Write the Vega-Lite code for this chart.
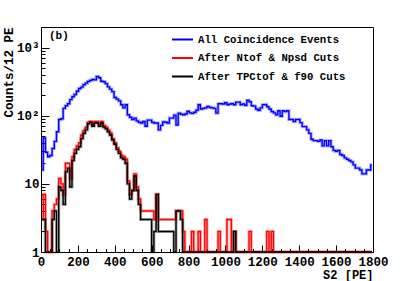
{
"$schema": "https://vega.github.io/schema/vega-lite/v6.json",
"width": 332, "height": 225,
"autosize": {"type": "none"},
"padding": {"left": 41, "top": 27, "right": 42, "bottom": 29},
"background": "white",
"config": {"view": {"stroke": "#000", "strokeWidth": 1}, "font": "Liberation Mono"},
"datasets": {
"h": [
{"x":6,"all":16,"ntof":3,"tpc":3},{"x":18,"all":47,"ntof":7,"tpc":3},{"x":30,"all":29,"ntof":2,"tpc":1},{"x":42,"all":25,"ntof":1,"tpc":1},{"x":54,"all":26,"ntof":1,"tpc":1},
{"x":66,"all":33,"ntof":4,"tpc":3},{"x":78,"all":42,"ntof":5,"tpc":4},{"x":90,"all":58,"ntof":6,"tpc":1},{"x":102,"all":88,"ntof":12,"tpc":9},{"x":114,"all":90,"ntof":10,"tpc":8},
{"x":126,"all":128,"ntof":7,"tpc":5},{"x":138,"all":140,"ntof":20,"tpc":15},{"x":150,"all":150,"ntof":20,"tpc":17},{"x":162,"all":172,"ntof":12,"tpc":9},{"x":174,"all":190,"ntof":25,"tpc":22},
{"x":186,"all":205,"ntof":32,"tpc":28},{"x":198,"all":228,"ntof":36,"tpc":32},{"x":210,"all":250,"ntof":40,"tpc":35},{"x":222,"all":262,"ntof":52,"tpc":46},{"x":234,"all":285,"ntof":60,"tpc":55},
{"x":246,"all":300,"ntof":68,"tpc":62},{"x":258,"all":318,"ntof":80,"tpc":76},{"x":270,"all":330,"ntof":82,"tpc":80},{"x":282,"all":340,"ntof":75,"tpc":70},{"x":294,"all":335,"ntof":82,"tpc":78},
{"x":306,"all":375,"ntof":82,"tpc":78},{"x":318,"all":360,"ntof":74,"tpc":70},{"x":330,"all":320,"ntof":82,"tpc":78},{"x":342,"all":315,"ntof":72,"tpc":68},{"x":354,"all":295,"ntof":68,"tpc":64},
{"x":366,"all":265,"ntof":62,"tpc":58},{"x":378,"all":245,"ntof":56,"tpc":52},{"x":390,"all":225,"ntof":46,"tpc":44},{"x":402,"all":185,"ntof":40,"tpc":38},{"x":414,"all":175,"ntof":34,"tpc":32},
{"x":426,"all":165,"ntof":30,"tpc":28},{"x":438,"all":145,"ntof":26,"tpc":24},{"x":450,"all":130,"ntof":25,"tpc":23},{"x":462,"all":145,"ntof":23,"tpc":20},{"x":474,"all":103,"ntof":11,"tpc":10},
{"x":486,"all":95,"ntof":7,"tpc":6},{"x":498,"all":88,"ntof":8,"tpc":8},{"x":510,"all":92,"ntof":14,"tpc":13},{"x":522,"all":84,"ntof":9,"tpc":8},{"x":534,"all":80,"ntof":6,"tpc":5},
{"x":546,"all":78,"ntof":4,"tpc":3},{"x":558,"all":82,"ntof":4,"tpc":3},{"x":570,"all":70,"ntof":4,"tpc":3},{"x":582,"all":86,"ntof":4,"tpc":3},{"x":594,"all":86,"ntof":4,"tpc":3},
{"x":606,"all":80,"ntof":4,"tpc":1},{"x":618,"all":78,"ntof":3,"tpc":2},{"x":630,"all":78,"ntof":7,"tpc":7},{"x":642,"all":62,"ntof":3,"tpc":2},{"x":654,"all":72,"ntof":3,"tpc":2},
{"x":666,"all":81,"ntof":3,"tpc":2},{"x":678,"all":80,"ntof":3,"tpc":2},{"x":690,"all":78,"ntof":3,"tpc":2},{"x":702,"all":92,"ntof":3,"tpc":2},{"x":714,"all":92,"ntof":3,"tpc":2},
{"x":726,"all":102,"ntof":3,"tpc":1},{"x":738,"all":73,"ntof":4,"tpc":4},{"x":750,"all":109,"ntof":4,"tpc":4},{"x":762,"all":105,"ntof":4,"tpc":3},{"x":774,"all":103,"ntof":2,"tpc":1},
{"x":786,"all":106,"ntof":1,"tpc":1},{"x":798,"all":116,"ntof":1,"tpc":1},{"x":810,"all":110,"ntof":1,"tpc":1},{"x":822,"all":108,"ntof":2,"tpc":1},{"x":834,"all":112,"ntof":1,"tpc":1},
{"x":846,"all":120,"ntof":1,"tpc":1},{"x":858,"all":145,"ntof":2,"tpc":1},{"x":870,"all":125,"ntof":1,"tpc":1},{"x":882,"all":128,"ntof":1,"tpc":1},{"x":894,"all":130,"ntof":3,"tpc":1},
{"x":906,"all":137,"ntof":1,"tpc":1},{"x":918,"all":132,"ntof":1,"tpc":1},{"x":930,"all":130,"ntof":1,"tpc":1},{"x":942,"all":128,"ntof":1,"tpc":1},{"x":954,"all":109,"ntof":1,"tpc":1},
{"x":966,"all":150,"ntof":2,"tpc":1},{"x":978,"all":150,"ntof":1,"tpc":1},{"x":990,"all":148,"ntof":1,"tpc":1},{"x":1002,"all":155,"ntof":1,"tpc":1},{"x":1014,"all":145,"ntof":3,"tpc":1},
{"x":1026,"all":148,"ntof":3,"tpc":1},{"x":1038,"all":150,"ntof":1,"tpc":1},{"x":1050,"all":145,"ntof":2,"tpc":2},{"x":1062,"all":158,"ntof":1,"tpc":1},{"x":1074,"all":158,"ntof":1,"tpc":1},
{"x":1086,"all":145,"ntof":1,"tpc":1},{"x":1098,"all":148,"ntof":1,"tpc":1},{"x":1110,"all":142,"ntof":1,"tpc":1},{"x":1122,"all":168,"ntof":1,"tpc":1},{"x":1134,"all":160,"ntof":2,"tpc":1},
{"x":1146,"all":140,"ntof":1,"tpc":1},{"x":1158,"all":138,"ntof":1,"tpc":1},{"x":1170,"all":125,"ntof":1,"tpc":1},{"x":1182,"all":120,"ntof":1,"tpc":1},{"x":1194,"all":130,"ntof":1,"tpc":1},
{"x":1206,"all":145,"ntof":1,"tpc":1},{"x":1218,"all":145,"ntof":1,"tpc":1},{"x":1230,"all":135,"ntof":2,"tpc":1},{"x":1242,"all":125,"ntof":1,"tpc":1},{"x":1254,"all":115,"ntof":2,"tpc":1},
{"x":1266,"all":110,"ntof":1,"tpc":1},{"x":1278,"all":103,"ntof":1,"tpc":1},{"x":1290,"all":118,"ntof":1,"tpc":1},{"x":1302,"all":98,"ntof":1,"tpc":1},{"x":1314,"all":118,"ntof":1,"tpc":1},
{"x":1326,"all":115,"ntof":1,"tpc":1},{"x":1338,"all":118,"ntof":1,"tpc":1},{"x":1350,"all":88,"ntof":1,"tpc":1},{"x":1362,"all":88,"ntof":1,"tpc":1},{"x":1374,"all":82,"ntof":1,"tpc":1},
{"x":1386,"all":88,"ntof":1,"tpc":1},{"x":1398,"all":88,"ntof":1,"tpc":1},{"x":1410,"all":79,"ntof":1,"tpc":1},{"x":1422,"all":69,"ntof":1,"tpc":1},{"x":1434,"all":69,"ntof":1,"tpc":1},
{"x":1446,"all":62,"ntof":1,"tpc":1},{"x":1458,"all":55,"ntof":1,"tpc":1},{"x":1470,"all":45,"ntof":1,"tpc":1},{"x":1482,"all":43,"ntof":1,"tpc":1},{"x":1494,"all":43,"ntof":1,"tpc":1},
{"x":1506,"all":42,"ntof":1,"tpc":1},{"x":1518,"all":44,"ntof":1,"tpc":1},{"x":1530,"all":36,"ntof":1,"tpc":1},{"x":1542,"all":43,"ntof":1,"tpc":1},{"x":1554,"all":36,"ntof":1,"tpc":1},
{"x":1566,"all":43,"ntof":1,"tpc":1},{"x":1578,"all":35,"ntof":1,"tpc":1},{"x":1590,"all":31,"ntof":1,"tpc":1},{"x":1602,"all":30,"ntof":1,"tpc":1},{"x":1614,"all":31,"ntof":1,"tpc":1},
{"x":1626,"all":27,"ntof":1,"tpc":1},{"x":1638,"all":26,"ntof":1,"tpc":1},{"x":1650,"all":24,"ntof":1,"tpc":1},{"x":1662,"all":23,"ntof":1,"tpc":1},{"x":1674,"all":22,"ntof":1,"tpc":1},
{"x":1686,"all":21,"ntof":1,"tpc":1},{"x":1698,"all":19,"ntof":1,"tpc":1},{"x":1710,"all":17,"ntof":1,"tpc":1},{"x":1722,"all":17,"ntof":1,"tpc":1},{"x":1734,"all":16,"ntof":1,"tpc":1},
{"x":1746,"all":14,"ntof":1,"tpc":1},{"x":1758,"all":14,"ntof":1,"tpc":1},{"x":1770,"all":16,"ntof":1,"tpc":1},{"x":1782,"all":16,"ntof":1,"tpc":1},{"x":1794,"all":19,"ntof":1,"tpc":1}
],
"lab": [{"x": 43, "n": 1500, "t": "(b)"}]
},
"encoding": {
"x": {"field": "x", "type": "quantitative",
"scale": {"domain": [0, 1800], "nice": false, "zero": false},
"axis": {"title": "S2 [PE]", "titleAnchor": "end", "titleFontSize": 12, "titleFont": "Liberation Mono", "titleFontWeight": "bold", "titleColor": "#000", "titlePadding": -2.5,
"values": [0,50,100,150,200,250,300,350,400,450,500,550,600,650,700,750,800,850,900,950,1000,1050,1100,1150,1200,1250,1300,1350,1400,1450,1500,1550,1600,1650,1700,1750,1800],
"format": "d",
"labelExpr": "datum.value % 200 == 0 ? datum.label : ''",
"tickSize": {"condition": {"test": "datum.value % 200 == 0", "value": -7}, "value": -3.5},
"tickColor": "#000", "domainColor": "#000", "grid": false,
"labelFontSize": 12.5, "labelFont": "Liberation Mono", "labelFontWeight": "bold", "labelColor": "#000",
"labelPadding": 10.5, "labelFlush": false, "labelOverlap": false}},
"y": {"field": "n", "type": "quantitative",
"scale": {"type": "log", "domain": [1, 2000], "nice": false},
"axis": {"title": "Counts/12 PE", "titleAnchor": "end", "titleFontSize": 12.5, "titleFont": "Liberation Mono", "titleFontWeight": "bold", "titleColor": "#000", "titlePadding": 1,
"values": [1,2,3,4,5,6,7,8,9,10,20,30,40,50,60,70,80,90,100,200,300,400,500,600,700,800,900,1000,2000],
"labelExpr": "datum.value == 1 ? '1' : datum.value == 10 ? '10' : datum.value == 100 ? '10²' : datum.value == 1000 ? '10³' : ''",
"tickSize": {"condition": {"test": "datum.value == 1 || datum.value == 10 || datum.value == 100 || datum.value == 1000", "value": -8}, "value": -4},
"tickColor": "#000", "domainColor": "#000", "grid": false,
"labelFontSize": 12.5, "labelFont": "Liberation Mono", "labelFontWeight": "bold", "labelColor": "#000",
"labelPadding": 10, "labelFlush": false, "labelOverlap": false}}
},
"layer": [
{
"data": {"name": "h"},
"transform": [{"fold": ["all", "ntof", "tpc"], "as": ["series", "n"]}],
"mark": {"type": "line", "interpolate": "step", "strokeWidth": 3.2, "opacity": 0.3},
"encoding": {
"color": {"field": "series", "type": "nominal",
"scale": {"domain": ["all", "ntof", "tpc"], "range": ["#0000ff", "#ff0000", "#000000"]},
"legend": {"orient": "none", "legendX": 130, "legendY": 1, "title": null, "padding": 0,
"symbolType": "stroke", "symbolStrokeWidth": 2, "symbolSize": 440, "symbolOpacity": 1, "labelOffset": 4,
"labelFontSize": 10.7, "labelFont": "Liberation Mono", "labelFontWeight": "bold", "labelColor": "#000", "rowPadding": 1.5,
"labelExpr": "datum.value == 'all' ? 'All Coincidence Events' : datum.value == 'ntof' ? 'After Ntof & Npsd Cuts' : 'After TPCtof & f90 Cuts'"}}
}
},
{
"data": {"name": "h"},
"transform": [{"fold": ["all", "ntof", "tpc"], "as": ["series", "n"]}],
"mark": {"type": "line", "interpolate": "step", "strokeWidth": 1.4},
"encoding": {
"color": {"field": "series", "type": "nominal",
"scale": {"domain": ["all", "ntof", "tpc"], "range": ["#0000ff", "#ff0000", "#000000"]}}
}
},
{
"data": {"name": "lab"},
"mark": {"type": "text", "align": "left", "baseline": "middle", "fontWeight": "bold", "fontSize": 11, "font": "Liberation Mono", "color": "#000"},
"encoding": {
"text": {"field": "t"}
}
}
]
}
